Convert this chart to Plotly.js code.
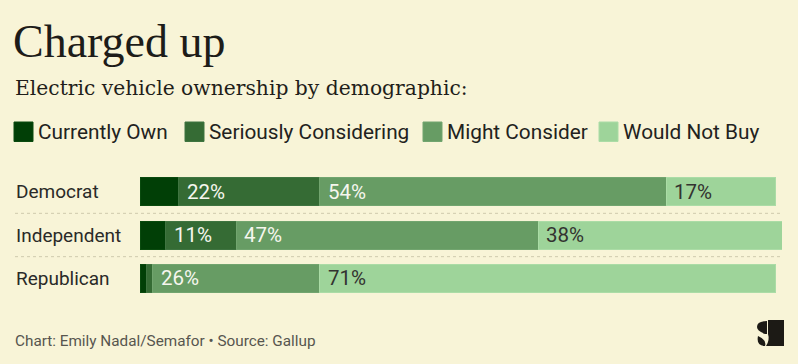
<!DOCTYPE html>
<html>
<head>
<meta charset="utf-8">
<script src="https://cdn.plot.ly/plotly-3.0.1.min.js"></script>
<style>
  html, body { margin: 0; padding: 0; background: #f8f4d7; }
  #chart { width: 798px; height: 364px; }
</style>
</head>
<body>
<div id="chart"></div>
<script>
// ---- Data ----
const categories = ["Democrat", "Independent", "Republican"];
const seriesNames = ["Currently Own", "Seriously Considering", "Might Consider", "Would Not Buy"];
const currentlyOwn = [6, 4, 1];
const seriouslyConsidering = [22, 11, 1];
const mightConsider = [54, 47, 26];
const wouldNotBuy = [17, 38, 71];
const seriesValues = [currentlyOwn, seriouslyConsidering, mightConsider, wouldNotBuy];

// ---- Styles ----
const colors = ["#013f06", "#356b34", "#679c64", "#9ed49a"];
const edgeColors = ["#0a4a0e", "#3f7440", "#72a56f", "#abdca6"];
const labelColors = [null, "#f6f6ee", "#f6f6ee", "#333330"];
const bg = "#f8f4d7";
const sans = "Roboto, 'Noto Sans', sans-serif";
const serif = "'DejaVu Serif', 'Liberation Serif', serif";
const titleSerif = "'Liberation Serif', 'DejaVu Serif', serif";

// plot area geometry (pixels)
const L = 140, R = 16, T = 170, B = 64, W = 798, H = 364;
const pw = W - L - R, ph = H - T - B;
const xp = p => (p - L) / pw;
const yp = p => (H - B - p) / ph;

const traces = seriesNames.map((name, i) => ({
  type: "bar",
  orientation: "h",
  name: name,
  y: categories,
  x: seriesValues[i],
  marker: { color: colors[i], line: { color: edgeColors[i], width: 1 } },
  hoverinfo: "skip"
}));

const annotations = [];
const shapes = [];

// subtitle
annotations.push({
  xref: "paper", yref: "paper", x: xp(13), y: yp(88), xanchor: "left", yanchor: "middle",
  text: "Electric vehicle ownership by demographic:", showarrow: false,
  font: { family: serif, size: 20.3, color: "#1f1e1a" }
});

// legend
const legendSquareX = [14, 185, 423, 599];
legendSquareX.forEach((sx, i) => {
  shapes.push({
    type: "rect", xref: "paper", yref: "paper",
    x0: xp(sx), x1: xp(sx + 19), y0: yp(141.5), y1: yp(122),
    fillcolor: colors[i], line: { color: edgeColors[i], width: 1 }
  });
  annotations.push({
    xref: "paper", yref: "paper", x: xp(sx + 22), y: yp(132), xanchor: "left", yanchor: "middle",
    text: seriesNames[i], showarrow: false,
    font: { family: sans, size: 20.8, color: "#222220" }
  });
});

// category labels
categories.forEach(c => {
  annotations.push({
    xref: "paper", yref: "y", x: xp(14), y: c, xanchor: "left", yanchor: "middle",
    text: c, showarrow: false, font: { family: sans, size: 19, color: "#2a2a28" }
  });
});

// in-bar value labels
categories.forEach((c, ci) => {
  let start = 0;
  seriesValues.forEach((vals, si) => {
    const v = vals[ci];
    if (si > 0 && v >= 5) {
      annotations.push({
        xref: "x", yref: "y", x: start, y: c, xanchor: "left", yanchor: "middle",
        xshift: 6, text: v + "%", showarrow: false,
        font: { family: sans, size: 20.5, color: labelColors[si] }
      });
    }
    start += v;
  });
});

// dotted separators
[0.5, 1.5].forEach(yv => {
  shapes.push({
    type: "line", xref: "paper", yref: "y", x0: xp(15), x1: xp(783), y0: yv, y1: yv,
    line: { color: "#cfcaae", width: 1, dash: "dot" }
  });
});

// footer
annotations.push({
  xref: "paper", yref: "paper", x: xp(13), y: yp(341), xanchor: "left", yanchor: "middle",
  text: "Chart: Emily Nadal/Semafor • Source: Gallup", showarrow: false,
  font: { family: sans, size: 15.3, color: "#57564f" }
});

// logo (approximate Semafor mark)
const P = (x, y) => xp(x).toFixed(5) + "," + yp(y).toFixed(5);
shapes.push({
  type: "path", xref: "paper", yref: "paper",
  path: "M" + P(768, 320) + " L" + P(784, 320) + " L" + P(784, 346) + " L" + P(766, 346) +
        " Q" + P(770, 340) + " " + P(768, 334) + " Z",
  fillcolor: "#1c1a15", line: { width: 0 }
});
shapes.push({
  type: "path", xref: "paper", yref: "paper",
  path: "M" + P(767, 321) + " Q" + P(757, 321) + " " + P(757, 327) +
        " Q" + P(757, 331) + " " + P(765, 334) + " L" + P(767, 334) + " Z",
  fillcolor: "#1c1a15", line: { width: 0 }
});
shapes.push({
  type: "path", xref: "paper", yref: "paper",
  path: "M" + P(758, 336) + " Q" + P(756, 346) + " " + P(765, 346) +
        " Q" + P(767, 340) + " " + P(758, 336) + " Z",
  fillcolor: "#1c1a15", line: { width: 0 }
});

const layout = {
  width: W, height: H,
  margin: { l: L, r: R, t: T, b: B, pad: 0 },
  paper_bgcolor: bg, plot_bgcolor: bg,
  title: {
    text: "Charged up", xref: "container", yref: "container",
    x: 13 / W, xanchor: "left", y: 1 - 41 / H, yanchor: "middle",
    font: { family: titleSerif, size: 46, color: "#1d1c19" }
  },
  barmode: "stack",
  bargap: 0.354,
  showlegend: false,
  xaxis: { range: [0, 100], visible: false, fixedrange: true },
  yaxis: { type: "category", range: [2.5, -0.5], visible: false, fixedrange: true },
  annotations: annotations,
  shapes: shapes
};

Plotly.newPlot("chart", traces, layout, { displayModeBar: false, staticPlot: true });
</script>
</body>
</html>
